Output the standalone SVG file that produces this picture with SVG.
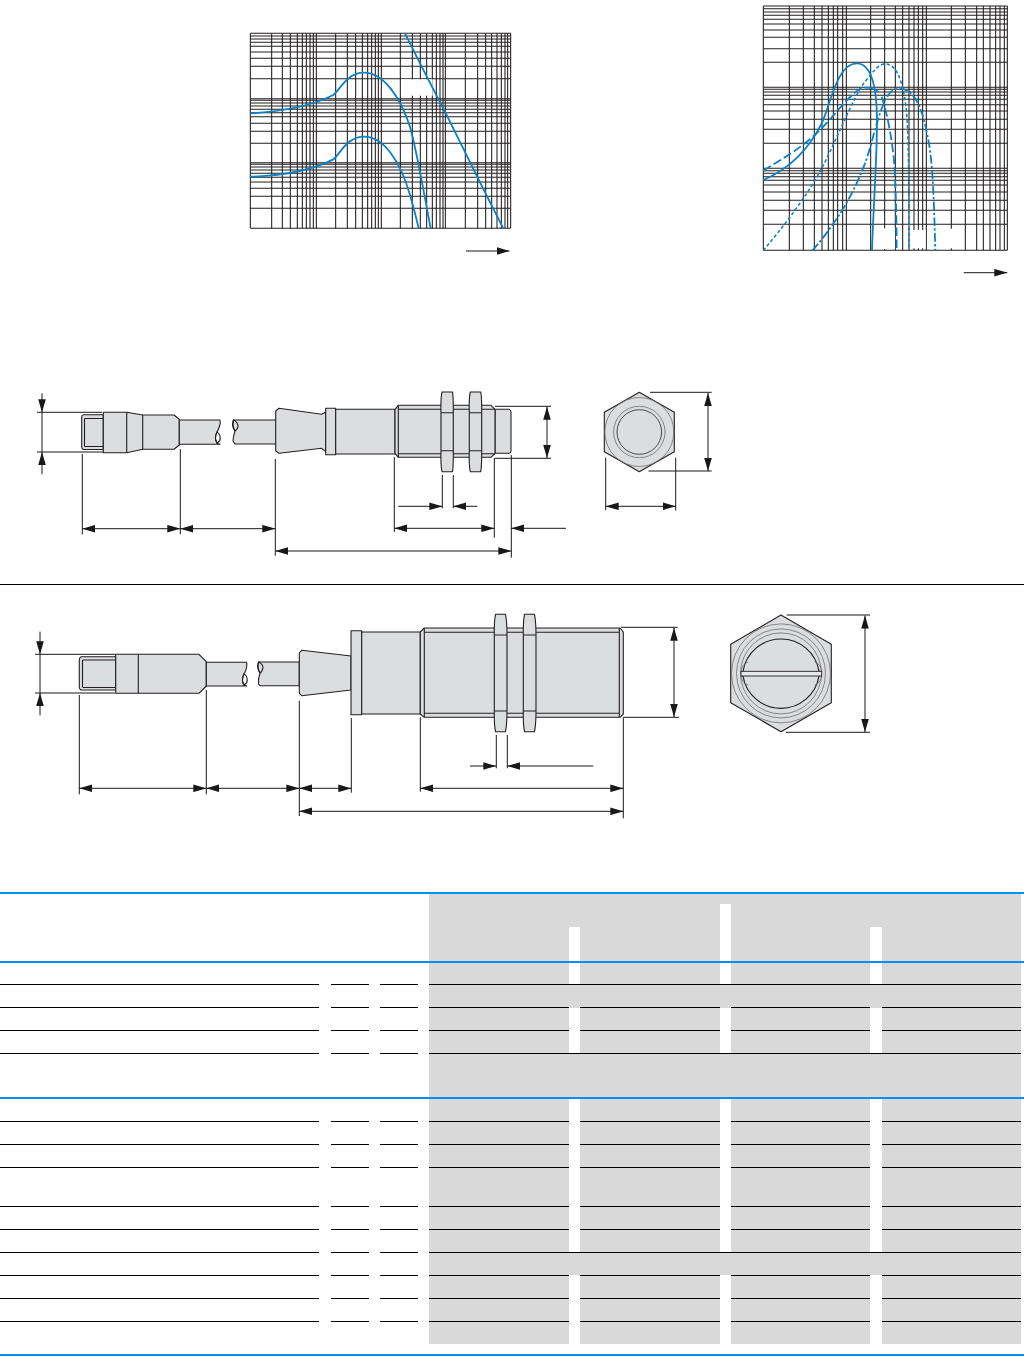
<svg xmlns="http://www.w3.org/2000/svg" width="1024" height="1356" viewBox="0 0 1024 1356">
<style>
.grid{fill:none;stroke:#231f20;stroke-width:3.2}
.cv{fill:none;stroke:#0a80c6;stroke-width:5.4}
.k{fill:#fff}
.b{fill:#dcddde;stroke:#231f20;stroke-width:1.1;stroke-linejoin:round}
.l{fill:none;stroke:#231f20;stroke-width:1.1}
.d{fill:none;stroke:#1a1718;stroke-width:1}
.a{marker-end:url(#ah)}
.aa{marker-start:url(#ah);marker-end:url(#ah)}
.ci{fill:none;stroke:#6d6e70;stroke-width:.8}
.tg{fill:#d9d9d9}
.tw{fill:#fff}
.bl{stroke:#0090f8;stroke-width:2;fill:none}
.bk{stroke:#000;stroke-width:1;fill:none}
</style>
<defs>
<marker id="ah" markerUnits="userSpaceOnUse" markerWidth="13" markerHeight="8" refX="13" refY="4" orient="auto-start-reverse"><path d="M0 .2L13 4L0 7.8Z" fill="#1a1718"/></marker>
</defs>
<rect width="1024" height="1356" fill="#fff"/>

<g id="chart-left" transform="translate(240,20) scale(.33333)">
<path class="grid" d="M31 40V625M95 40V625M127 40V625M151 40V625M172 40V625M187 40V625M199 40V625M210 40V625M220 40V625M229 40V625M287 40V625M322 40V625M347 40V625M367 40V625M383 40V625M395 40V625M406 40V625M415 40V625M424 40V625M481 40V625M517 40V625M541 40V625M560 40V625M577 40V625M589 40V625M600 40V625M609 40V625M616 40V625M676 40V625M713 40V625M737 40V625M755 40V625M771 40V625M784 40V625M795 40V625M803 40V625M812 40V625"/>
<path class="grid" d="M31 40H812M31 48H812M31 57H812M31 67H812M31 79H812M31 96H812M31 115H812M31 139H812M31 176H812M31 236H812M31 241H812M31 249H812M31 258H812M31 268H812M31 278H812M31 290H812M31 310H812M31 334H812M31 370H812M31 428H812M31 433H812M31 441H812M31 450H812M31 460H812M31 472H812M31 486H812M31 505H812M31 529H812M31 565H812M31 625H812"/>
<rect class="k" x="483" y="178" width="95" height="49"/>
<path class="cv" d="M31 280C100 276 200 265 280 225C300 210 320 158 372 158C430 158 480 230 510 320C530 390 550 510 572 625"/>
<path class="cv" d="M31 470C100 468 200 458 280 418C300 403 320 350 372 350C430 350 480 420 510 525C520 560 528 590 536 625"/>
<path class="cv" d="M495 40C530 110 570 190 610 265C670 385 730 510 790 625"/>
</g>
<path id="chart-left-arrow" class="d a" d="M466 251H509.5"/>

<g id="chart-right" transform="translate(750,0) scale(.33333)">
<path class="grid" d="M40 18V751M118 18V751M160 18V751M193 18V751M216 18V751M235 18V751M250 18V751M263 18V751M278 18V751M289 18V751M362 18V751M404 18V751M436 18V751M458 18V751M477 18V751M492 18V751M505 18V751M518 18V751M529 18V751M604 18V751M646 18V751M680 18V751M700 18V751M720 18V751M737 18V751M750 18V751M763 18V751M772 18V751"/>
<path class="grid" d="M40 18H772M40 26H772M40 36H772M40 46H772M40 58H772M40 72H772M40 90H772M40 112H772M40 146H772M40 187H772M40 262H772M40 268H772M40 276H772M40 286H772M40 298H772M40 314H772M40 333H772M40 358H772M40 388H772M40 430H772M40 505H772M40 512H772M40 520H772M40 530H772M40 541H772M40 555H772M40 576H772M40 601H772M40 631H772M40 673H772M40 751H772"/>
<rect class="k" x="365" y="685" width="70" height="62"/>
<rect class="k" x="480" y="690" width="47" height="55"/>
<rect class="k" x="532" y="686" width="74" height="59"/>
<path class="cv" d="M40 540C110 510 170 460 215 370C240 320 260 190 320 190C360 190 380 250 381 360C381 480 370 620 366 751"/>
<path class="cv" stroke-dasharray="10 7" style="stroke-width:4.6" d="M40 751C100 680 170 590 215 505C260 420 310 290 345 245C370 215 385 192 405 192C440 192 455 240 465 300C478 370 476 600 477 751"/>
<path class="cv" stroke-dasharray="26 10" d="M40 512C100 475 160 440 210 390C260 340 300 280 335 265C360 258 375 268 385 275M395 290C415 350 430 440 435 520C438 600 440 680 440 751"/>
<path class="cv" stroke-dasharray="26 7 7 7" d="M188 751C240 690 300 610 345 490C375 410 395 265 445 265C500 265 520 340 535 420C550 500 552 620 556 751"/>
</g>
<path id="chart-right-arrow" class="d a" d="M963.7 272.7H1007.3"/>

<g id="sensor-top">
<path class="b" d="M83.5 414.7H103.3V449.5H83.5Q81.7 449 81.7 447V417Q81.7 415 83.5 414.7Z"/>
<path class="l" d="M84.5 418.5V446.5M84.5 418.5H103.3M84.5 446.5H103.3"/>
<path class="b" d="M103.3 412.3H126.7L142.7 415H174L179.3 419.3V445L174 449.3H142.7L126.7 452.7H103.3Z"/>
<path class="l" d="M126.7 412.3V452.7M142.7 415V449.3"/>
<path class="b" d="M179.3 420H220Q221 425 217 432Q214 438 217 443L220 444.3H179.3Z"/>
<path class="l" d="M217 432Q214 438 217 443Q221 441 220 436Q219 433 217 432Z"/>
<path class="b" d="M276.7 420H233.5Q231 426 235 431Q233 437 233 441L235 444H276.7Z"/>
<path class="l" d="M233.5 420Q238 422 238 427Q237 430 235 431Q232 426 233.5 420Z"/>
<path class="b" d="M275.7 411L279 408.3L321.7 414.3L325.7 412V451.7L321.7 448.3L279 453.3L275.7 451Z"/>
<path class="b" d="M325.7 408.3H335.7V454.7H325.7Z"/>
<path class="b" d="M335.7 409.3H395V454H335.7Z"/>
<path class="b" d="M495 409.3H509Q511 410 511 412V451Q511 453 509 453.3H495Z"/>
<path class="b" d="M395 409.3L398.3 405.3H491L495 409.3V453.3L491 457.3H398.3L395 453.3Z"/>
<path class="l" d="M398.3 405.3V457.3M398.3 409.3H495M398.3 453.7H495"/>
<path class="b" d="M442 392H452.5Q453.5 398 453.3 412.7V450.7Q453.5 465 452.5 471.7H442Q440.5 465 441 450.7V412.7Q440.5 398 442 392Z"/>
<path class="l" d="M441 412.7H453.3M441 450.7H453.3"/>
<path class="b" d="M470.3 392H480.8Q481.8 398 481.7 412.7V450.7Q481.8 465 480.8 471.7H470.3Q468.8 465 469.3 450.7V412.7Q468.8 398 470.3 392Z"/>
<path class="l" d="M469.3 412.7H481.7M469.3 450.7H481.7"/>
</g>
<g id="hex-top">
<path class="b" d="M639.3 392.3L674.3 412.3V451.7L639.3 471.7L604.3 451.7V412.3Z"/>
<circle class="ci" cx="639.3" cy="432" r="34.5"/>
<circle class="ci" cx="639.3" cy="432" r="25.7"/>
<circle class="ci" style="stroke:#231f20" cx="639.3" cy="432" r="22.3"/>
</g>

<g id="sensor-bottom">
<path class="b" d="M81 656.7H115.7V690H81Q79.3 689 79.3 687V660Q79.3 657.5 81 656.7Z"/>
<path class="l" d="M82.5 660V687M82.5 660H115.7M82.5 687.5H115.7"/>
<path class="b" d="M115.7 654.3H199L206.3 661.7V686L199 693.3H115.7Z"/>
<path class="l" d="M138.3 654.3V693.3"/>
<path class="b" d="M206.3 662.3H246.7Q247.5 668 244 674Q241 680 244 685L246.7 686H206.3Z"/>
<path class="l" d="M244 674Q241 680 244 685Q248 683 247 678Q246.5 675 244 674Z"/>
<path class="b" d="M299.3 662H258.5Q256.5 668 260 673Q258 679 258.5 684L260 685.7H299.3Z"/>
<path class="l" d="M258.5 662Q263 664 263 668Q262 672 260 673Q257 668 258.5 662Z"/>
<path class="b" d="M299.3 653L301.7 650.3L351 656V690L301.7 695.7L299.3 693.3Z"/>
<path class="b" d="M351 630.7H361.7V714.7H351Z"/>
<path class="b" d="M361.7 632H420.3V714H361.7Z"/>
<path class="b" d="M420.3 632L424.3 628H620L623.3 632V714L620 717.3H424.3L420.3 714Z"/>
<path class="l" d="M424.3 628V717.3M619.3 628V717.3M424.3 632.3H619.3M424.3 713.3H619.3"/>
<path class="b" d="M495.5 614.3H505.5Q507 622 507 635V711Q507 724 505.5 731.7H495.5Q494 724 494.3 711V635Q494 622 495.5 614.3Z"/>
<path class="l" d="M494.3 635H507M494.3 711H507"/>
<path class="b" d="M524.5 614.3H534.5Q536 622 536 635V711Q536 724 534.5 731.7H524.5Q523 724 523.3 711V635Q523 622 524.5 614.3Z"/>
<path class="l" d="M523.3 635H536M523.3 711H536"/>
</g>
<g id="hex-bottom">
<path class="b" d="M781 615L831.3 644.3V702.7L781 731.7L730.7 702.7V644.3Z"/>
<circle class="ci" cx="781" cy="673.4" r="49.5"/>
<circle class="ci" cx="781" cy="673.4" r="44.5"/>
<circle class="ci" cx="781" cy="673.4" r="40.5"/>
<path class="l" style="stroke-width:1.2" d="M819 671.3A38.5 38.5 0 0 0 743 671.3M743 676A38.5 38.5 0 0 0 819 676"/>
<path class="ci" d="M741 676Q742 683 748 685M821.7 676Q820.7 683 814.7 685M741 671.3Q742 664 748 662M821.7 671.3Q820.7 664 814.7 662"/>
<rect x="741" y="671.3" width="80.7" height="4.7" fill="#e6e7e8" stroke="#231f20" stroke-width=".9"/>
</g>

<g id="connectors">
<path class="d" d="M37 412.3H102M37 452H103"/>
<path class="d a" d="M42 393.3V412.3"/><path class="d a" d="M42 474.3V452"/><path class="d" d="M42 412.3V452"/>
<path class="d" d="M82.3 454V534.3M180.3 449V534.3M275.3 459V555.7M394.3 457V532M494.3 458V537.7M511.3 455V557.7M442.3 475V508.3M453.3 475V508.3"/>
<path class="d aa" d="M82.3 528.7H180.3"/><path class="d aa" d="M180.3 528.7H275.3"/>
<path class="d aa" d="M275.3 551H511.3"/><path class="d aa" d="M394.3 528.3H494.3"/>
<path class="d a" d="M566 528.3H511.3"/>
<path class="d a" d="M398.3 506.3H442.3"/><path class="d a" d="M477.3 506.3H453.3"/>
<path class="d" d="M495 406.3H551M495 458.3H551"/><path class="d aa" d="M547 406.7V458"/>
<path class="d" d="M650 392.3H711.7M648.5 471H711.7M605.7 457.7V510M675.7 457.7V510.5"/>
<path class="d aa" d="M708 393V471"/><path class="d aa" d="M605.7 506.3H675.7"/>

<path class="d" d="M35 654.3H115M35 693H115"/>
<path class="d a" d="M40 631.7V654.3"/><path class="d a" d="M40 715.3V693"/><path class="d" d="M40 654.3V693"/>
<path class="d" d="M79.3 695V794.3M206.3 690V794.3M299.3 700.7V816M351.3 718V792.7M420.3 717.3V791.7M623.3 717.3V818.3M496.3 735V768.3M507.3 735V768.3"/>
<path class="d aa" d="M79.3 788.3H206.3"/><path class="d aa" d="M206.3 788.3H299.3"/><path class="d aa" d="M299.3 788.3H351.3"/>
<path class="d aa" d="M420.3 788.3H623.3"/><path class="d aa" d="M299.3 811.3H623.3"/>
<path class="d a" d="M470 766H496.3"/><path class="d a" d="M593.3 766H507.3"/>
<path class="d" d="M621 627.3H677.7M623.3 717.3H679"/><path class="d aa" d="M674 627.7V717"/>
<path class="d" d="M786.7 615H870M786 732.3H870"/><path class="d aa" d="M865 615.5V732"/>
</g>
<path id="divider" d="M0 584.5H1024" stroke="#000" stroke-width="1" fill="none"/>

<g id="table">
<rect class="tg" x="429" y="894" width="592" height="450"/>
<path class="tw" d="M720 904H731V984H720ZM569 927H580V984H569ZM870 927H882V984H870Z"/>
<path class="tw" d="M569 1008H580V1053H569ZM720 1008H731V1053H720ZM870 1008H882V1053H870Z"/>
<path class="tw" d="M569 1098H580V1252H569ZM720 1098H731V1252H720ZM870 1098H882V1252H870Z"/>
<path class="tw" d="M569 1275H580V1344H569ZM720 1275H731V1344H720ZM870 1275H882V1344H870Z"/>
<path class="bk" d="M0 984.5H319M331 984.5H369M380 984.5H418M429 984.5H1021"/>
<path class="bk" d="M0 1007.5H319M331 1007.5H369M380 1007.5H418M429 1007.5H569M580 1007.5H720M731 1007.5H870M882 1007.5H1021"/>
<path class="bk" d="M0 1030.5H319M331 1030.5H369M380 1030.5H418M429 1030.5H569M580 1030.5H720M731 1030.5H870M882 1030.5H1021"/>
<path class="bk" d="M0 1053.5H319M331 1053.5H369M380 1053.5H418M429 1053.5H1021"/>
<path class="bk" d="M0 1121.5H319M331 1121.5H369M380 1121.5H418M429 1121.5H569M580 1121.5H720M731 1121.5H870M882 1121.5H1021"/>
<path class="bk" d="M0 1144.5H319M331 1144.5H369M380 1144.5H418M429 1144.5H569M580 1144.5H720M731 1144.5H870M882 1144.5H1021"/>
<path class="bk" d="M0 1167.5H319M331 1167.5H369M380 1167.5H418M429 1167.5H569M580 1167.5H720M731 1167.5H870M882 1167.5H1021"/>
<path class="bk" d="M0 1206.5H319M331 1206.5H369M380 1206.5H418M429 1206.5H569M580 1206.5H720M731 1206.5H870M882 1206.5H1021"/>
<path class="bk" d="M0 1229.5H319M331 1229.5H369M380 1229.5H418M429 1229.5H569M580 1229.5H720M731 1229.5H870M882 1229.5H1021"/>
<path class="bk" d="M0 1252.5H319M331 1252.5H369M380 1252.5H418M429 1252.5H1021"/>
<path class="bk" d="M0 1275.5H319M331 1275.5H369M380 1275.5H418M429 1275.5H569M580 1275.5H720M731 1275.5H870M882 1275.5H1021"/>
<path class="bk" d="M0 1298.5H319M331 1298.5H369M380 1298.5H418M429 1298.5H569M580 1298.5H720M731 1298.5H870M882 1298.5H1021"/>
<path class="bk" d="M0 1321.5H319M331 1321.5H369M380 1321.5H418M429 1321.5H569M580 1321.5H720M731 1321.5H870M882 1321.5H1021"/>
<path class="bl" d="M0 893H1024M0 962H1024M0 1098H1024M0 1355H1024"/>
</g>
</svg>
